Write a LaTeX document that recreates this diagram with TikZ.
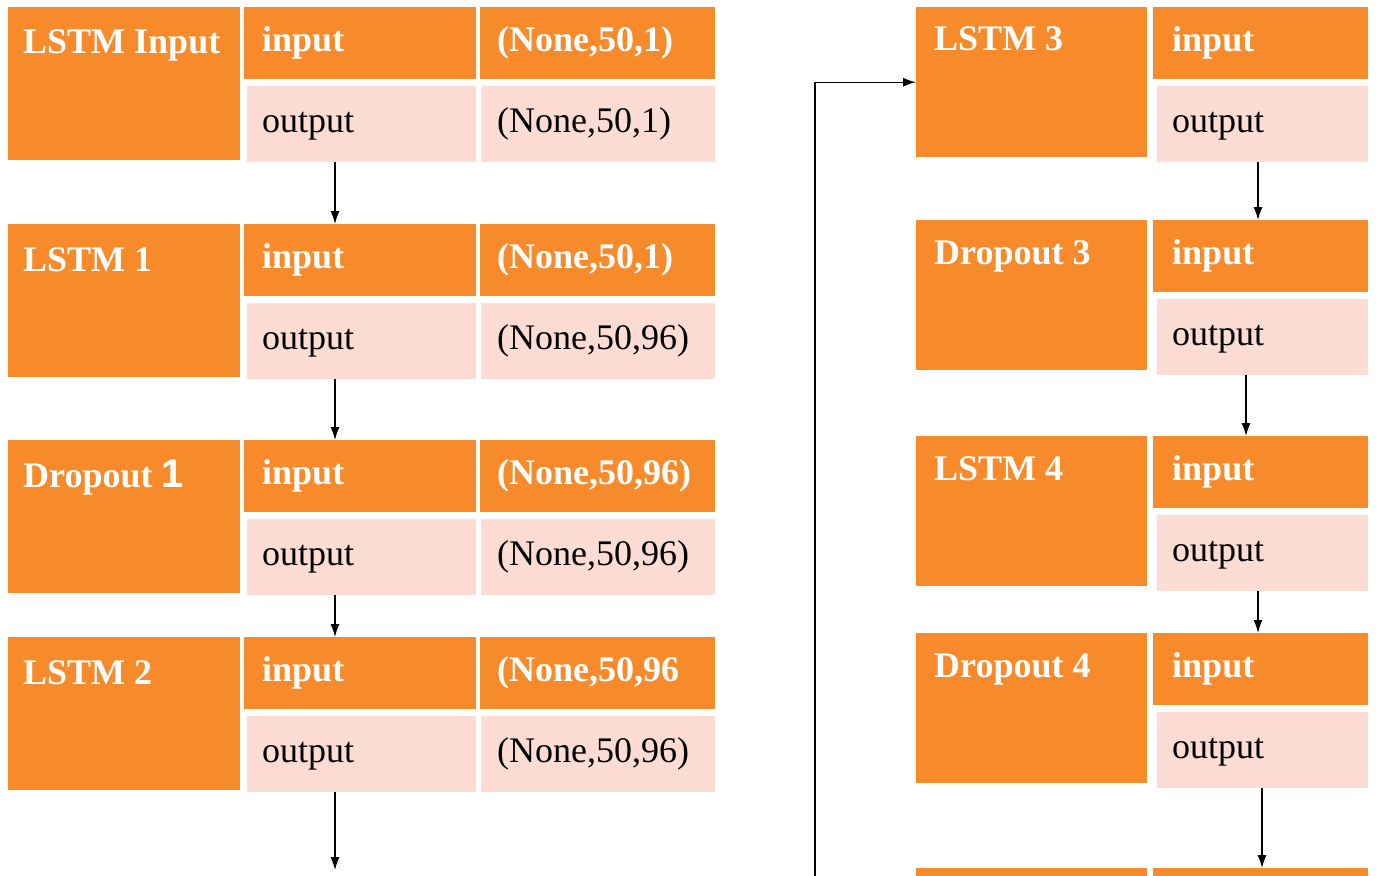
\documentclass[tikz,border=0pt]{standalone}
\usepackage{fontspec}
\setmainfont{Liberation Serif}
\newfontfamily\sansone{Liberation Sans}
\usetikzlibrary{arrows.meta}
\definecolor{lorange}{RGB}{247,139,44}
\definecolor{lpink}{RGB}{252,220,211}
\tikzset{
  cell/.style={rectangle, inner ysep=0pt, anchor=north west, align=left,
    text height=25pt, text depth=8pt},
  hcell/.style={cell, fill=lorange, text=white, font=\fontsize{36}{40}\selectfont\bfseries},
  ocell/.style={cell, fill=lpink, text=black, font=\fontsize{36}{40}\selectfont},
  lbox/.style={rectangle, fill=lorange, anchor=north west, inner sep=0pt},
  ltext/.style={anchor=base west, text=white, inner sep=0pt, font=\fontsize{36}{40}\selectfont\bfseries},
  arr/.style={line width=1.3pt, -{Latex[length=13pt,width=9pt]}}
}
% left-column block: name, top, label, input shape, output shape
\newcommand\blockL[5]{%
  \node[lbox, minimum width=232pt, minimum height=153pt] (#1l) at (8,-#2) {};
  \node[ltext] (#1t) at (23,-#2-47) {#3};
  \node[hcell, inner xsep=18pt, text width=196pt, minimum height=72pt] (#1i) at (244,-#2) {input};
  \node[hcell, inner xsep=17pt, text width=201pt, minimum height=72pt] (#1s) at (480,-#2) {#4};
  \node[ocell, inner xsep=15pt, text width=199pt, minimum height=76pt] (#1o) at (247,-#2-79) {output};
  \node[ocell, inner xsep=16pt, text width=202pt, minimum height=76pt] (#1p) at (481,-#2-79) {#5};
}
% right-column block: name, top, label
\newcommand\blockR[3]{%
  \node[lbox, minimum width=231pt, minimum height=150pt] (#1l) at (916,-#2) {};
  \node[ltext] (#1t) at (934,-#2-44) {#3};
  \node[hcell, inner xsep=19pt, text width=177pt, minimum height=72pt] (#1i) at (1153,-#2) {input};
  \node[ocell, inner xsep=15pt, text width=181pt, minimum height=76pt] (#1o) at (1157,-#2-79) {output};
}
\begin{document}
\begin{tikzpicture}[x=1pt,y=1pt]
  \useasboundingbox (0,0) rectangle (1378,-875);
  \clip (0,0) rectangle (1378,-875);
  \fill[white] (0,0) rectangle (1378,-875);

  \blockL{B1}{7}{LSTM Input}{(None,50,1)}{(None,50,1)}
  \blockL{B2}{224}{LSTM 1}{(None,50,1)}{(None,50,96)}
  \blockL{B3}{440}{Dropout {\sansone\fontsize{40}{44}\selectfont 1}}{(None,50,96)}{(None,50,96)}
  \blockL{B4}{637}{LSTM 2}{(None,50,96}{(None,50,96)}

  \blockR{R1}{7}{LSTM 3}
  \blockR{R2}{220}{Dropout 3}
  \blockR{R3}{436}{LSTM 4}
  \blockR{R4}{633}{Dropout 4}
  \node[lbox, minimum width=231pt, minimum height=150pt] (R5l) at (916,-868) {};
  \node[lbox, minimum width=215pt, minimum height=72pt] (R5i) at (1153,-868) {};

  % left arrows
  \coordinate (axL) at (335,0);
  \coordinate (endL) at (335,-870);
  \draw[arr] (B1o.south -| axL) -- (B2i.north -| axL);
  \draw[arr] (B2o.south -| axL) -- (B3i.north -| axL);
  \draw[arr] (B3o.south -| axL) -- (B4i.north -| axL);
  \draw[arr] (B4o.south -| axL) -- (endL);

  % right arrows
  \coordinate (ax1) at (1258,0);
  \coordinate (ax2) at (1246,0);
  \coordinate (ax3) at (1258,0);
  \coordinate (ax4) at (1262,0);
  \draw[arr] (R1o.south -| ax1) -- (R2i.north -| ax1);
  \draw[arr] (R2o.south -| ax2) -- (R3i.north -| ax2);
  \draw[arr] (R3o.south -| ax3) -- (R4i.north -| ax3);
  \draw[arr] (R4o.south -| ax4) -- (R5i.north -| ax4);

  % loop arrow into LSTM 3
  \coordinate (loopS) at (815,-880);
  \draw[arr] (loopS) |- (R1l.west);
\end{tikzpicture}
\end{document}
